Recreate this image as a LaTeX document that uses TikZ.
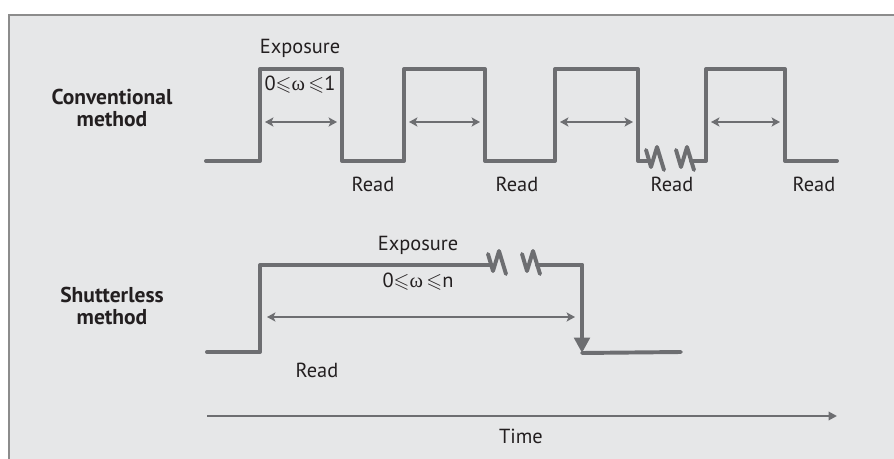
\documentclass[tikz,border=0pt]{standalone}
\usepackage{amsmath}
\usepackage{amssymb}
\usepackage{fontspec}
\setmainfont{PT Sans}
\newfontfamily\greekfont{Liberation Serif}
\usepackage{xcolor}
\usetikzlibrary{arrows.meta}

\definecolor{panel}{HTML}{E6E7E8}
\definecolor{wavegray}{HTML}{6D6E71}
\definecolor{framegray}{HTML}{8C8C8C}
\definecolor{inkdark}{HTML}{231F20}

\begin{document}
\begin{tikzpicture}[
  x=0.025cm, y=-0.025cm,
  %--- style definitions ---
  wave/.style     = {line width=2.8pt, color=wavegray, line cap=round, line join=round},
  span/.style     = {{Stealth[length=6pt,width=6.5pt,inset=1.5pt]}-{Stealth[length=6pt,width=6.5pt,inset=1.5pt]},
                     line width=1.3pt, color=wavegray},
  timeaxis/.style = {-{Triangle[length=6pt,width=6pt]}, line width=1.4pt, color=wavegray},
  caption/.style  = {font=\fontsize{14.5}{16}\selectfont, text=inkdark, inner sep=0pt},
  method/.style   = {caption, font=\fontsize{15.3}{16.3}\selectfont\bfseries, align=center},
]

\useasboundingbox (0,0) rectangle (894,459);

%% ── PANEL ──────────────────────────────────────────────────────────────────
\fill[panel] (9,15) rectangle (894,459);
\draw[framegray, line width=1pt] (9,459) -- (9,15) -- (894,15);

%% ── ROW LABELS ─────────────────────────────────────────────────────────────
\node[method] (conv) at (112,108) {Conventional\\method};
\node[method] (shut) at (112,306) {Shutterless\\method};

%% ── CONVENTIONAL : WAVEFORM ────────────────────────────────────────────────
\draw[wave] (206,161) -- (260,161) -- (260,69) -- (342,69) -- (342,161)
            -- (404,161) -- (404,69) -- (485,69) -- (485,161)
            -- (555,161) -- (555,69) -- (638,69) -- (638,161) -- (648,161);
% break marks
\draw[wave] (646,150) -- (651,167) -- (657,147) -- (664,170);
\draw[wave] (676,150) -- (681,167) -- (687,147) -- (694,170);
\draw[wave] (691,161) -- (706,161) -- (706,69) -- (785,69) -- (785,161) -- (837,161);

% exposure spans
\coordinate (s1a) at (265,122);  \coordinate (s1b) at (337,122);
\coordinate (s2a) at (409,122);  \coordinate (s2b) at (480,122);
\coordinate (s3a) at (560,122);  \coordinate (s3b) at (633,122);
\coordinate (s4a) at (711,122);  \coordinate (s4b) at (780,122);
\draw[span] (s1a) -- (s1b);
\draw[span] (s2a) -- (s2b);
\draw[span] (s3a) -- (s3b);
\draw[span] (s4a) -- (s4b);

\node[caption] (exp1) at (300,48) {Exposure};
\node[caption] (omg1) at (300,85) {0$\leqslant${\greekfont ω}\,$\leqslant$1};

\node[caption] (rd1) at (373,184) {Read};
\node[caption] (rd2) at (517,184) {Read};
\node[caption] (rd3) at (672,184) {Read};
\node[caption] (rd4) at (814,184) {Read};

%% ── SHUTTERLESS : WAVEFORM ─────────────────────────────────────────────────
\draw[wave] (207,352) -- (260,352) -- (260,265) -- (491,265);
% break marks
\draw[wave] (488,254) -- (493,271) -- (499,251) -- (506,274);
\draw[wave] (522,254) -- (527,271) -- (533,251) -- (540,274);
\coordinate (fallTop) at (582,265);
\coordinate (fallBot) at (582,353);
\draw[wave] (537,265) -- (fallTop);
\draw[wave, -{Triangle[length=11pt,width=11pt]}] (fallTop) -- (fallBot);
\draw[wave] (fallBot) -- (681,352);

\coordinate (s5a) at (267,317);  \coordinate (s5b) at (575,317);
\draw[span] (s5a) -- (s5b);

\node[caption] (exp2) at (418,245) {Exposure};
\node[caption] (omg2) at (418,282) {0$\leqslant${\greekfont ω}\,$\leqslant$n};
\node[caption] (rd5)  at (317,370) {Read};

%% ── TIME AXIS ──────────────────────────────────────────────────────────────
\coordinate (t0) at (207,416);
\coordinate (t1) at (837,416);
\draw[timeaxis] (t0) -- (t1);
\node[caption] (time) at (521,436) {Time};

\end{tikzpicture}
\end{document}
